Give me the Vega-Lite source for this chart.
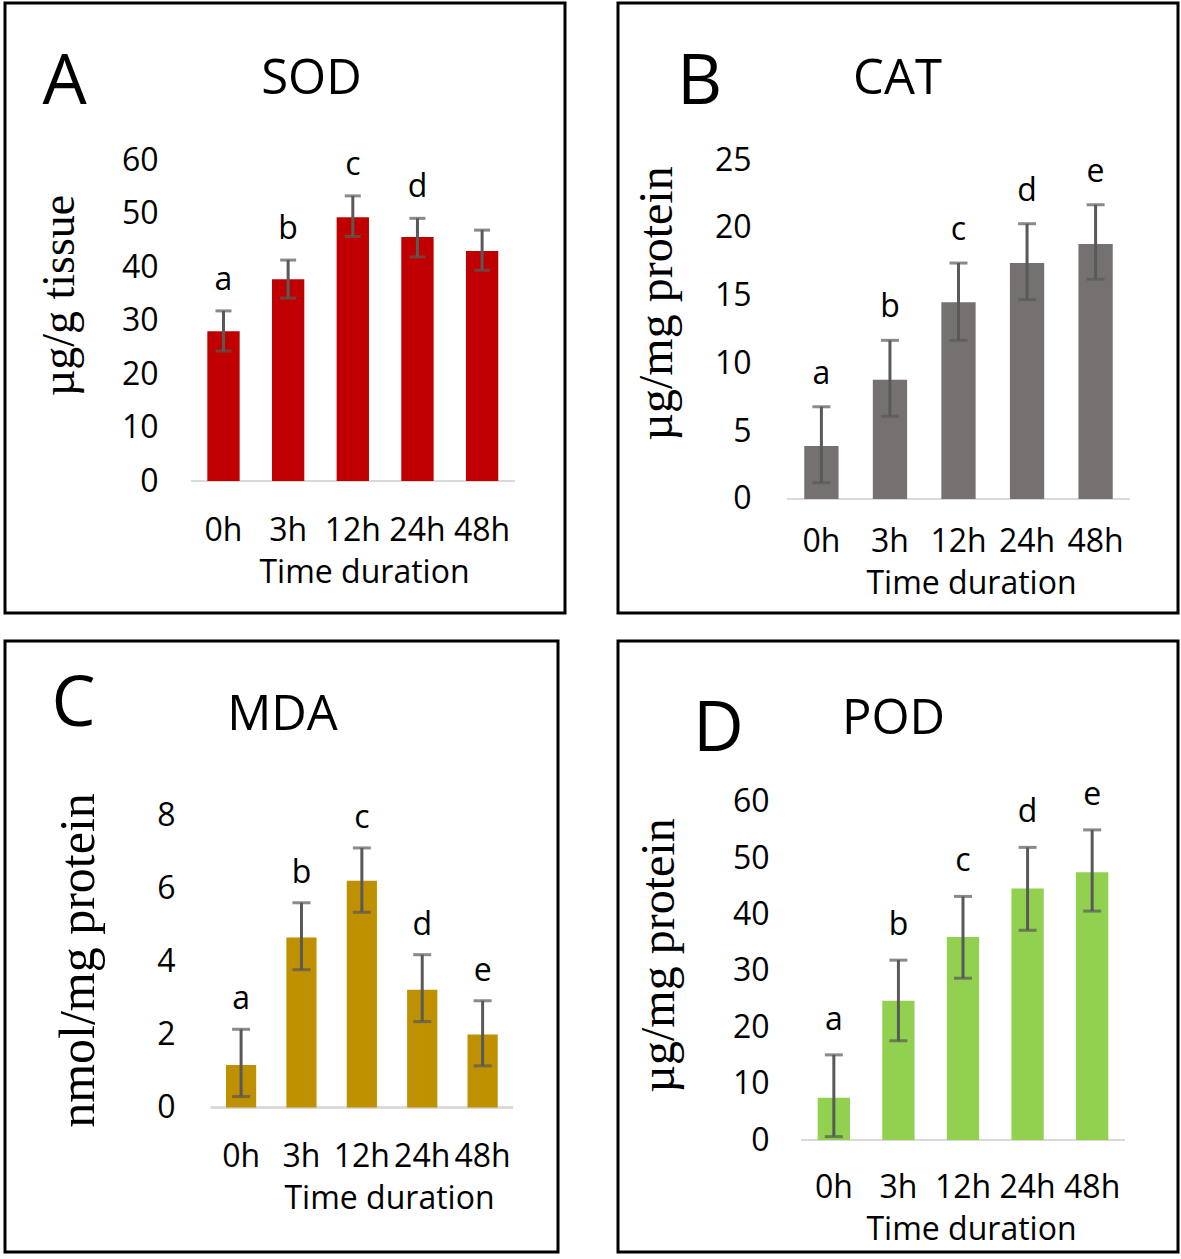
{
  "$schema": "https://vega.github.io/schema/vega-lite/v6.json",
  "padding": {"left": 3, "top": 1, "right": 0, "bottom": 0},
  "background": "white",
  "config": {
    "font": "Open Sans",
    "view": {"stroke": "black", "strokeWidth": 3},
    "axis": {"grid": false, "domain": false, "ticks": false, "tickSize": 0, "labelPadding": 0, "labelFontSize": 32, "labelColor": "#000", "labelFont": "Open Sans", "titleFontWeight": "normal", "titleColor": "#000", "titleFont": "Open Sans", "labelOverlap": false, "labelBound": false, "labelFlush": false},
    "text": {"font": "Open Sans"}
  },
  "datasets": {
    "sod": [
      {"time": "0h", "value": 28.0, "lo": 24.3, "hi": 31.8, "letter": "a"},
      {"time": "3h", "value": 37.7, "lo": 34.2, "hi": 41.3, "letter": "b"},
      {"time": "12h", "value": 49.3, "lo": 45.7, "hi": 53.3, "letter": "c"},
      {"time": "24h", "value": 45.6, "lo": 41.9, "hi": 49.1, "letter": "d"},
      {"time": "48h", "value": 43.0, "lo": 39.4, "hi": 46.9, "letter": ""}
    ],
    "cat": [
      {"time": "0h", "value": 3.9, "lo": 1.2, "hi": 6.8, "letter": "a"},
      {"time": "3h", "value": 8.8, "lo": 6.1, "hi": 11.7, "letter": "b"},
      {"time": "12h", "value": 14.5, "lo": 11.7, "hi": 17.4, "letter": "c"},
      {"time": "24h", "value": 17.4, "lo": 14.7, "hi": 20.3, "letter": "d"},
      {"time": "48h", "value": 18.8, "lo": 16.2, "hi": 21.7, "letter": "e"}
    ],
    "mda": [
      {"time": "0h", "value": 1.16, "lo": 0.3, "hi": 2.14, "letter": "a"},
      {"time": "3h", "value": 4.65, "lo": 3.77, "hi": 5.6, "letter": "b"},
      {"time": "12h", "value": 6.2, "lo": 5.34, "hi": 7.1, "letter": "c"},
      {"time": "24h", "value": 3.22, "lo": 2.35, "hi": 4.18, "letter": "d"},
      {"time": "48h", "value": 2.0, "lo": 1.14, "hi": 2.92, "letter": "e"}
    ],
    "pod": [
      {"time": "0h", "value": 7.5, "lo": 0.6, "hi": 15.1, "letter": "a"},
      {"time": "3h", "value": 24.7, "lo": 17.6, "hi": 31.9, "letter": "b"},
      {"time": "12h", "value": 36.0, "lo": 28.7, "hi": 43.2, "letter": "c"},
      {"time": "24h", "value": 44.6, "lo": 37.2, "hi": 51.9, "letter": "d"},
      {"time": "48h", "value": 47.5, "lo": 40.6, "hi": 55.0, "letter": "e"}
    ]
  },
  "spacing": 24,
  "vconcat": [
    {
      "spacing": 49,
      "hconcat": [
        {
          "width": 560, "height": 610,
          "data": {"name": "sod"},
          "resolve": {"axis": {"x": "independent", "y": "independent"}},
          "layer": [
            {"mark": {"type": "rule", "color": "#D9D9D9", "strokeWidth": 2},
             "encoding": {"x": {"datum": "0h", "type": "nominal", "bandPosition": -0.5, "axis": null, "scale": {"domain": ["0h","3h","12h","24h","48h"], "range": [170, 525.6], "paddingInner": 0.5, "paddingOuter": 0.5}},
                          "x2": {"datum": "48h", "bandPosition": 1.5},
                          "y": {"datum": 0, "type": "quantitative", "axis": null, "scale": {"domain": [-24.67, 89.35], "nice": false, "zero": false}}}},
            {"mark": {"type": "bar", "color": "#C00000"},
             "encoding": {
               "x": {"field": "time", "type": "nominal", "sort": ["0h","3h","12h","24h","48h"],
                     "axis": {"orient": "bottom", "offset": -73, "labelAngle": 0, "labelBaseline": "alphabetic", "title": "Time duration", "titleFontSize": 32, "titleX": 359, "titleY": 42, "titleBaseline": "alphabetic", "titleAlign": "center", "titleAngle": 0}},
               "y": {"field": "value", "type": "quantitative",
                     "axis": {"orient": "left", "offset": -153, "values": [0,10,20,30,40,50,60], "title": "µg/g tissue", "titleFont": "Liberation Serif", "titleFontSize": 46, "titleAngle": 270, "titleX": -85, "titleY": 292, "titleBaseline": "alphabetic", "titleAlign": "center"}},
               "y2": {"datum": 0}
             }},
            {"mark": {"type": "rule", "color": "#595959", "strokeWidth": 3},
             "encoding": {
               "x": {"field": "time", "type": "nominal", "sort": ["0h","3h","12h","24h","48h"],
                     "axis": {"orient": "top", "offset": 0, "labels": false, "title": "SOD", "titleFontSize": 49, "titleX": 306, "titleY": 90, "titleBaseline": "alphabetic", "titleAlign": "center", "titleAngle": 0}},
               "y": {"field": "lo", "type": "quantitative",
                     "axis": {"orient": "right", "offset": 0, "labels": false, "title": "A", "titleFontSize": 70, "titleX": -501, "titleY": 100, "titleAngle": 0, "titleBaseline": "alphabetic", "titleAlign": "center"}},
               "y2": {"field": "hi"}
             }},
            {"mark": {"type": "tick", "color": "#595959", "thickness": 3, "size": 16},
             "encoding": {"x": {"field": "time", "type": "nominal", "sort": ["0h","3h","12h","24h","48h"], "axis": null}, "y": {"field": "lo", "type": "quantitative", "axis": null}}},
            {"mark": {"type": "tick", "color": "#595959", "thickness": 3, "size": 16},
             "encoding": {"x": {"field": "time", "type": "nominal", "sort": ["0h","3h","12h","24h","48h"], "axis": null}, "y": {"field": "hi", "type": "quantitative", "axis": null}}},
            {"mark": {"type": "text", "fontSize": 32, "baseline": "alphabetic", "dy": -21, "color": "#000"},
             "encoding": {"x": {"field": "time", "type": "nominal", "sort": ["0h","3h","12h","24h","48h"], "axis": null}, "y": {"field": "hi", "type": "quantitative", "axis": null}, "text": {"field": "letter"}}}
          ]
        },
        {
          "width": 560, "height": 610,
          "data": {"name": "cat"},
          "resolve": {"axis": {"x": "independent", "y": "independent"}},
          "layer": [
            {"mark": {"type": "rule", "color": "#D9D9D9", "strokeWidth": 2},
             "encoding": {"x": {"datum": "0h", "type": "nominal", "bandPosition": -0.5, "axis": null, "scale": {"domain": ["0h","3h","12h","24h","48h"], "range": [152, 529], "paddingInner": 0.5, "paddingOuter": 0.5}},
                          "x2": {"datum": "48h", "bandPosition": 1.5},
                          "y": {"datum": 0, "type": "quantitative", "axis": null, "scale": {"domain": [-8.41, 36.58], "nice": false, "zero": false}}}},
            {"mark": {"type": "bar", "color": "#767171"},
             "encoding": {
               "x": {"field": "time", "type": "nominal", "sort": ["0h","3h","12h","24h","48h"],
                     "axis": {"orient": "bottom", "offset": -62, "labelAngle": 0, "labelBaseline": "alphabetic", "title": "Time duration", "titleFontSize": 32, "titleX": 353, "titleY": 42, "titleBaseline": "alphabetic", "titleAlign": "center", "titleAngle": 0}},
               "y": {"field": "value", "type": "quantitative",
                     "axis": {"orient": "left", "offset": -133, "values": [0,5,10,15,20,25], "title": "µg/mg protein", "titleFont": "Liberation Serif", "titleFontSize": 48, "titleAngle": 270, "titleX": -80, "titleY": 300, "titleBaseline": "alphabetic", "titleAlign": "center"}},
               "y2": {"datum": 0}
             }},
            {"mark": {"type": "rule", "color": "#595959", "strokeWidth": 3},
             "encoding": {
               "x": {"field": "time", "type": "nominal", "sort": ["0h","3h","12h","24h","48h"],
                     "axis": {"orient": "top", "offset": 0, "labels": false, "title": "CAT", "titleFontSize": 49, "titleX": 279, "titleY": 90, "titleBaseline": "alphabetic", "titleAlign": "center", "titleAngle": 0}},
               "y": {"field": "lo", "type": "quantitative",
                     "axis": {"orient": "right", "offset": 0, "labels": false, "title": "B", "titleFontSize": 70, "titleX": -479, "titleY": 100, "titleAngle": 0, "titleBaseline": "alphabetic", "titleAlign": "center"}},
               "y2": {"field": "hi"}
             }},
            {"mark": {"type": "tick", "color": "#595959", "thickness": 3, "size": 18},
             "encoding": {"x": {"field": "time", "type": "nominal", "sort": ["0h","3h","12h","24h","48h"], "axis": null}, "y": {"field": "lo", "type": "quantitative", "axis": null}}},
            {"mark": {"type": "tick", "color": "#595959", "thickness": 3, "size": 18},
             "encoding": {"x": {"field": "time", "type": "nominal", "sort": ["0h","3h","12h","24h","48h"], "axis": null}, "y": {"field": "hi", "type": "quantitative", "axis": null}}},
            {"mark": {"type": "text", "fontSize": 32, "baseline": "alphabetic", "dy": -23, "color": "#000"},
             "encoding": {"x": {"field": "time", "type": "nominal", "sort": ["0h","3h","12h","24h","48h"], "axis": null}, "y": {"field": "hi", "type": "quantitative", "axis": null}, "text": {"field": "letter"}}}
          ]
        }
      ]
    },
    {
      "spacing": 56,
      "hconcat": [
        {
          "width": 553, "height": 611,
          "data": {"name": "mda"},
          "resolve": {"axis": {"x": "independent", "y": "independent"}},
          "layer": [
            {"mark": {"type": "rule", "color": "#D9D9D9", "strokeWidth": 2},
             "encoding": {"x": {"datum": "0h", "type": "nominal", "bandPosition": -0.5, "axis": null, "scale": {"domain": ["0h","3h","12h","24h","48h"], "range": [190.8, 522.9], "paddingInner": 0.5, "paddingOuter": 0.5}},
                          "x2": {"datum": "48h", "bandPosition": 1.5},
                          "y": {"datum": 0, "type": "quantitative", "axis": null, "scale": {"domain": [-3.952, 12.76], "nice": false, "zero": false}}}},
            {"mark": {"type": "bar", "color": "#BF9000"},
             "encoding": {
               "x": {"field": "time", "type": "nominal", "sort": ["0h","3h","12h","24h","48h"],
                     "axis": {"orient": "bottom", "offset": -86, "labelAngle": 0, "labelBaseline": "alphabetic", "title": "Time duration", "titleFontSize": 32, "titleX": 384, "titleY": 42, "titleBaseline": "alphabetic", "titleAlign": "center", "titleAngle": 0}},
               "y": {"field": "value", "type": "quantitative",
                     "axis": {"orient": "left", "offset": -170, "values": [0,2,4,6,8], "title": "nmol/mg protein", "titleFont": "Liberation Serif", "titleFontSize": 50, "titleAngle": 270, "titleX": -82, "titleY": 319, "titleBaseline": "alphabetic", "titleAlign": "center"}},
               "y2": {"datum": 0}
             }},
            {"mark": {"type": "rule", "color": "#595959", "strokeWidth": 3},
             "encoding": {
               "x": {"field": "time", "type": "nominal", "sort": ["0h","3h","12h","24h","48h"],
                     "axis": {"orient": "top", "offset": 0, "labels": false, "title": "MDA", "titleFontSize": 49, "titleX": 277, "titleY": 88, "titleBaseline": "alphabetic", "titleAlign": "center", "titleAngle": 0}},
               "y": {"field": "lo", "type": "quantitative",
                     "axis": {"orient": "right", "offset": 0, "labels": false, "title": "C", "titleFontSize": 70, "titleX": -485, "titleY": 84, "titleAngle": 0, "titleBaseline": "alphabetic", "titleAlign": "center"}},
               "y2": {"field": "hi"}
             }},
            {"mark": {"type": "tick", "color": "#595959", "thickness": 3, "size": 18},
             "encoding": {"x": {"field": "time", "type": "nominal", "sort": ["0h","3h","12h","24h","48h"], "axis": null}, "y": {"field": "lo", "type": "quantitative", "axis": null}}},
            {"mark": {"type": "tick", "color": "#595959", "thickness": 3, "size": 18},
             "encoding": {"x": {"field": "time", "type": "nominal", "sort": ["0h","3h","12h","24h","48h"], "axis": null}, "y": {"field": "hi", "type": "quantitative", "axis": null}}},
            {"mark": {"type": "text", "fontSize": 32, "baseline": "alphabetic", "dy": -20, "color": "#000"},
             "encoding": {"x": {"field": "time", "type": "nominal", "sort": ["0h","3h","12h","24h","48h"], "axis": null}, "y": {"field": "hi", "type": "quantitative", "axis": null}, "text": {"field": "letter"}}}
          ]
        },
        {
          "width": 560, "height": 611,
          "data": {"name": "pod"},
          "resolve": {"axis": {"x": "independent", "y": "independent"}},
          "layer": [
            {"mark": {"type": "rule", "color": "#D9D9D9", "strokeWidth": 2},
             "encoding": {"x": {"datum": "0h", "type": "nominal", "bandPosition": -0.5, "axis": null, "scale": {"domain": ["0h","3h","12h","24h","48h"], "range": [167.4, 522.6], "paddingInner": 0.5, "paddingOuter": 0.5}},
                          "x2": {"datum": "48h", "bandPosition": 1.5},
                          "y": {"datum": 0, "type": "quantitative", "axis": null, "scale": {"domain": [-19.86, 88.5], "nice": false, "zero": false}}}},
            {"mark": {"type": "bar", "color": "#92D050"},
             "encoding": {
               "x": {"field": "time", "type": "nominal", "sort": ["0h","3h","12h","24h","48h"],
                     "axis": {"orient": "bottom", "offset": -55, "labelAngle": 0, "labelBaseline": "alphabetic", "title": "Time duration", "titleFontSize": 32, "titleX": 353, "titleY": 42, "titleBaseline": "alphabetic", "titleAlign": "center", "titleAngle": 0}},
               "y": {"field": "value", "type": "quantitative",
                     "axis": {"orient": "left", "offset": -151, "values": [0,10,20,30,40,50,60], "title": "µg/mg protein", "titleFont": "Liberation Serif", "titleFontSize": 48, "titleAngle": 270, "titleX": -96, "titleY": 314, "titleBaseline": "alphabetic", "titleAlign": "center"}},
               "y2": {"datum": 0}
             }},
            {"mark": {"type": "rule", "color": "#595959", "strokeWidth": 3},
             "encoding": {
               "x": {"field": "time", "type": "nominal", "sort": ["0h","3h","12h","24h","48h"],
                     "axis": {"orient": "top", "offset": 0, "labels": false, "title": "POD", "titleFontSize": 49, "titleX": 275, "titleY": 92, "titleBaseline": "alphabetic", "titleAlign": "center", "titleAngle": 0}},
               "y": {"field": "lo", "type": "quantitative",
                     "axis": {"orient": "right", "offset": 0, "labels": false, "title": "D", "titleFontSize": 70, "titleX": -460, "titleY": 109, "titleAngle": 0, "titleBaseline": "alphabetic", "titleAlign": "center"}},
               "y2": {"field": "hi"}
             }},
            {"mark": {"type": "tick", "color": "#595959", "thickness": 3, "size": 18},
             "encoding": {"x": {"field": "time", "type": "nominal", "sort": ["0h","3h","12h","24h","48h"], "axis": null}, "y": {"field": "lo", "type": "quantitative", "axis": null}}},
            {"mark": {"type": "tick", "color": "#595959", "thickness": 3, "size": 18},
             "encoding": {"x": {"field": "time", "type": "nominal", "sort": ["0h","3h","12h","24h","48h"], "axis": null}, "y": {"field": "hi", "type": "quantitative", "axis": null}}},
            {"mark": {"type": "text", "fontSize": 32, "baseline": "alphabetic", "dy": -25, "color": "#000"},
             "encoding": {"x": {"field": "time", "type": "nominal", "sort": ["0h","3h","12h","24h","48h"], "axis": null}, "y": {"field": "hi", "type": "quantitative", "axis": null}, "text": {"field": "letter"}}}
          ]
        }
      ]
    }
  ]
}
